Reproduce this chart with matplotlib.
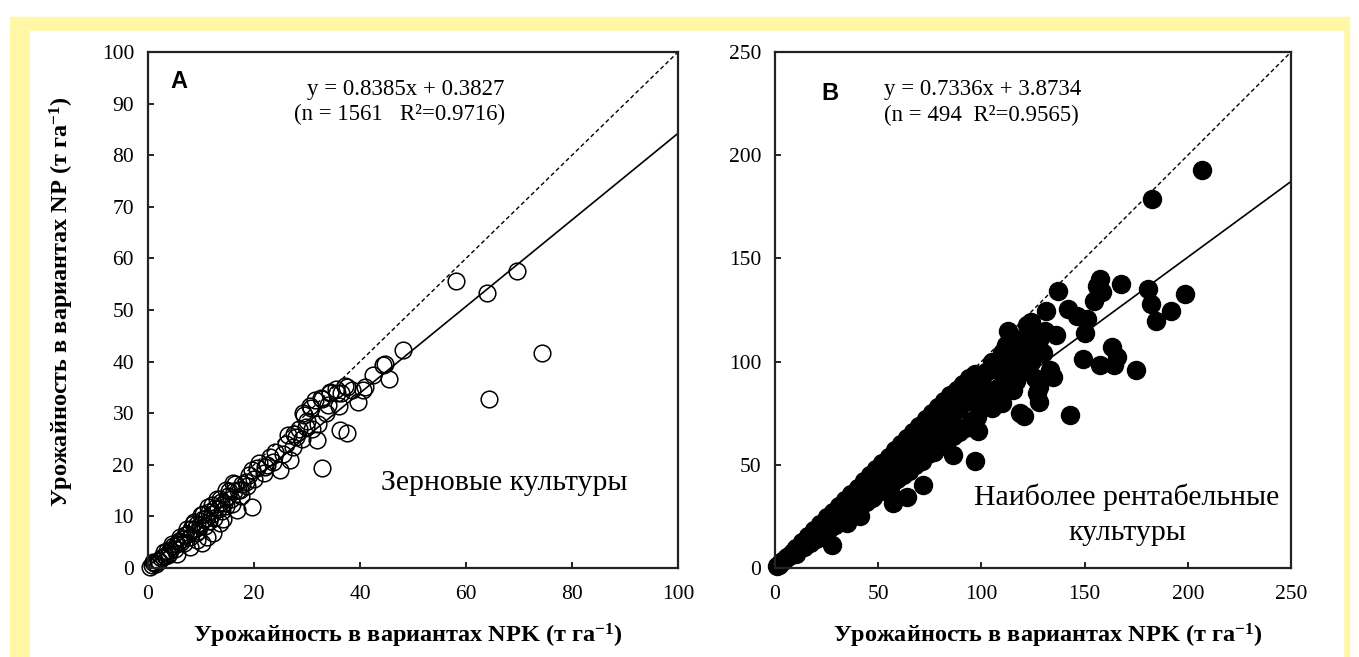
import numpy as np
import matplotlib
matplotlib.use('Agg')
import matplotlib.pyplot as plt
from matplotlib.patches import Rectangle

plt.rcParams['font.family'] = ['Liberation Serif', 'DejaVu Serif']
plt.rcParams['mathtext.fontset'] = 'custom'
plt.rcParams['mathtext.rm'] = 'Liberation Serif'
plt.rcParams['mathtext.bf'] = 'Liberation Serif:bold'
plt.rcParams['mathtext.default'] = 'regular'

# Panel A: grain crops (NPK yield vs NP yield)
a_x = [0.3, 0.8, 1.2, 1.8, 2.5, 2.9, 3.5, 4.2, 4.8, 5.4, 5.9, 6.5, 7.0, 7.6, 8.2, 8.8,
       9.3, 9.8, 10.4, 11.0, 11.6, 12.1, 12.7, 13.2, 13.8, 14.4, 15.0, 15.6, 16.3, 17.0,
       17.8, 18.5, 5.4, 7.9, 9.2, 10.1, 11.1, 12.3, 13.6, 14.2, 16.7, 19.6, 18.6, 17.4,
       8.5, 10.3, 12.0, 13.5, 15.2, 16.5, 19.6, 20.5, 22.5, 24.0, 26.5, 27.5, 29.5, 30.8,
       32.8, 34.3, 35.5, 37.2, 21.8, 23.0, 24.9, 26.8, 27.4, 28.0, 29.9, 31.8, 32.1, 32.8,
       36.2, 37.5, 29.3, 30.6, 32.7, 36.1, 34.3, 35.6, 37.5, 40.6, 39.7, 42.5, 44.4, 45.5,
       48.2, 44.7, 58.1, 63.9, 69.7, 74.3, 64.3, 4.0, 6.2, 9.0, 11.5, 14.8, 3.2, 1.5,
       1.0, 2.0, 3.0, 3.8, 4.5, 5.0, 6.0, 6.8, 7.3, 8.0, 8.7, 9.5, 10.0, 10.8, 11.4, 12.5,
       13.0, 14.0, 14.8, 15.8, 16.0, 17.5, 19.0, 20.0, 21.0, 22.0, 23.5, 25.5, 26.0, 28.5,
       29.0, 30.0, 31.0, 33.5, 34.0, 31.5, 36.5, 38.5, 41.0]
a_y = [0.2, 0.5, 0.9, 1.3, 2.0, 2.2, 3.2, 3.5, 4.3, 4.6, 5.3, 5.7, 6.4, 6.6, 7.5, 7.6,
       8.6, 8.3, 9.5, 9.6, 10.8, 10.4, 11.7, 11.5, 12.8, 12.6, 13.9, 13.4, 14.9, 15.2,
       16.3, 16.6, 2.8, 4.1, 5.4, 4.8, 6.0, 6.7, 8.7, 9.5, 11.2, 11.9, 15.8, 15.1,
       8.6, 10.4, 12.2, 13.3, 15.0, 16.2, 18.9, 19.3, 20.0, 22.5, 25.8, 26.0, 29.6, 31.0,
       32.7, 34.0, 34.6, 35.3, 18.4, 21.6, 19.0, 20.9, 23.5, 25.4, 27.4, 24.8, 28.0, 19.3,
       26.7, 26.1, 30.0, 31.3, 32.9, 31.3, 34.2, 33.9, 35.1, 34.5, 32.2, 37.4, 39.3, 36.6,
       42.2, 39.5, 55.6, 53.2, 57.6, 41.6, 32.7, 2.9, 5.0, 6.8, 9.2, 12.0, 2.4, 0.7,
       1.1, 1.4, 3.1, 2.6, 4.6, 3.6, 6.1, 4.9, 7.5, 6.0, 9.0, 7.2, 10.3, 8.2, 11.8, 9.6,
       13.4, 11.0, 15.2, 12.5, 16.5, 14.0, 18.0, 17.3, 20.3, 19.5, 20.5, 22.0, 24.0, 27.0,
       25.0, 28.5, 27.0, 30.0, 31.5, 32.5, 34.0, 34.5, 35.0]
a_slope, a_icpt = 0.8385, 0.3827

# Panel B: most profitable crops
b_x = [1, 2, 3, 4, 5, 6, 7, 8, 9, 10, 12, 13, 15, 16, 18, 19, 21, 22, 24, 25, 27, 28,
       30, 31, 33, 34, 36, 37, 39, 40, 42, 43, 45, 46, 48, 49, 51, 52, 54, 55, 57, 58,
       60, 61, 63, 64, 66, 67, 69, 70, 72, 73, 75, 76, 78, 79, 81, 82, 84, 85, 87, 88,
       90, 91, 93, 94, 96, 97, 99, 100,
       27.5, 20, 35, 41, 36, 47.6, 55.7, 57.3, 63.8, 65.6, 69, 71.9, 75.5, 77.1, 80.4,
       86.4, 88.7, 96.9, 96.1, 98.5, 93.6, 90.3, 96.9, 100.1, 105.1, 108.3, 113.3, 116.6,
       118.7, 120.7, 115.5, 126.8, 128.1, 128.1, 133, 134.6, 133.2, 119.9, 123.2, 128.1,
       122.3, 131.3, 136.3, 137.1, 142, 146.1, 150.2, 151.1, 154.4, 156, 157.6, 158.4,
       167.5, 163.4, 165.9, 149.4, 157.6, 164.2, 174.9, 142.9, 180.6, 182.3, 184.7, 192.1,
       198.6, 182.7, 206.9, 105, 110, 112, 115, 108, 102, 118, 100, 104, 110, 112, 124,
       10, 14, 17, 20, 23, 26, 29, 32, 35, 38, 41, 44, 47, 50, 53, 56, 59, 62, 65, 68,
       71, 74, 77, 80, 83, 86, 89, 92, 95, 98,
       103, 107, 111, 114, 117, 121, 124, 126, 130, 108, 113, 125, 131]
b_y = [1, 1.5, 3, 3.2, 4.5, 5.5, 6, 7.5, 8, 9.5, 10.5, 12.5, 13, 15.5, 16, 18.5, 19, 21.5,
       22, 24.5, 24, 27, 27.5, 30, 29, 33, 32, 36, 35, 39, 37, 42, 40, 45, 42, 48, 45, 51,
       47, 54, 50, 57, 52, 60, 55, 63, 58, 66, 61, 69, 63, 72, 66, 75, 68, 78, 71, 81, 74,
       84, 76, 86, 79, 89, 82, 92, 84, 93, 87, 90,
       11, 14, 22, 25, 28, 34.5, 36.2, 31.3, 34.5, 59.6, 62.9, 40.2, 71.1, 64.6, 66.2,
       54.7, 67.8, 52, 68.5, 66.2, 81, 87.6, 94.1, 89.2, 77.7, 87.6, 97.4, 90.8,
       75, 73.6, 86.2, 84.6, 80.2, 87.6, 95.8, 92.5, 94.3, 102.3, 107.3, 110.6,
       117.9, 124.5, 113, 134.3, 125.3, 122, 113.8, 120.4, 129.5, 136.8, 140.1, 133.5,
       137.6, 107.3, 102.3, 101.5, 98.2, 98.2, 96.1, 74.1, 135.2, 127.8, 119.6, 124.5,
       132.8, 178.7, 192.7, 100, 104, 108, 112, 96, 95, 110, 80, 84, 80, 92, 119,
       7, 10, 12, 15, 16.5, 19, 21, 24, 25.5, 28, 29.5, 32, 34, 37, 38, 40, 43, 45, 47, 50,
       52, 55, 56, 59, 61, 64, 66, 68, 71, 73,
       82, 86, 95, 88, 105, 96, 100, 92, 104, 100, 115, 113, 115]
b_slope, b_icpt = 0.7336, 3.8734

W, H = 1359, 657
fig = plt.figure(figsize=(W / 100, H / 100), dpi=100)
fig.patch.set_facecolor('white')
# yellow frame
fig.patches.append(Rectangle((10 / W, 0), (1349 - 10) / W, 1 - 17 / H,
                             transform=fig.transFigure, color='#FFF7A6', zorder=-2))
fig.patches.append(Rectangle((30 / W, 0), (1343 - 30) / W, 1 - 31 / H,
                             transform=fig.transFigure, color='white', zorder=-1))


def px(x, y):
    return x / W, 1 - y / H


def style_axes(ax):
    for s in ax.spines.values():
        s.set_linewidth(1.6)
        s.set_color('#222222')
    ax.tick_params(direction='in', length=4, width=1.2, labelsize=15.5,
                   top=False, right=False)
    ax.tick_params(axis='x', pad=12)
    ax.tick_params(axis='y', pad=10)
    ax.set_facecolor('none')


axA = fig.add_axes([148 / W, 1 - 568 / H, 530 / W, 516 / H])
axA.plot(a_x, a_y, 'o', ms=12, mfc='none', mec='black', mew=1.1, clip_on=False)
xx = np.array([0, 100])
axA.plot(xx, xx, color='black', lw=1, dashes=(3, 2))
axA.plot(xx, a_slope * xx + a_icpt, color='black', lw=1.2)
axA.set_xlim(0, 100)
axA.set_ylim(0, 100)
axA.set_xticks(range(0, 101, 20))
axA.set_yticks(range(0, 101, 10))
style_axes(axA)

axB = fig.add_axes([775 / W, 1 - 568 / H, 516 / W, 516 / H])
axB.plot(b_x, b_y, 'o', ms=13, color='black', clip_on=False)
xx = np.array([0, 250])
axB.plot(xx, xx, color='black', lw=1, dashes=(3, 2))
axB.plot(xx, b_slope * xx + b_icpt, color='black', lw=1.2)
axB.set_xlim(0, 250)
axB.set_ylim(0, 250)
axB.set_xticks(range(0, 251, 50))
axB.set_yticks(range(0, 251, 50))
style_axes(axB)

lab = 'Урожайность в вариантах NPK (т га$^{-1}$)'
fig.text(*px(408, 636), lab, ha='center', va='center', fontsize=17.5, fontweight='bold')
fig.text(*px(1048, 636), lab, ha='center', va='center', fontsize=17.5, fontweight='bold')
fig.text(*px(62, 302), 'Урожайность в вариантах NP (т га$^{-1}$)', ha='center',
         va='center', rotation=90, fontsize=17.5, fontweight='bold')

fig.text(*px(170, 82), 'A', family='Liberation Sans', fontweight='bold', fontsize=17,
         va='center')
fig.text(*px(821, 93), 'B', family='Liberation Sans', fontweight='bold', fontsize=17,
         va='center')

fig.text(*px(406, 90), 'y = 0.8385x + 0.3827', ha='center', va='center', fontsize=16.5)
fig.text(*px(400, 114), '(n = 1561   R²=0.9716)', ha='center', va='center', fontsize=16.5)
fig.text(*px(884, 90), 'y = 0.7336x + 3.8734', ha='left', va='center', fontsize=16.5)
fig.text(*px(884, 115), '(n = 494  R²=0.9565)', ha='left', va='center', fontsize=16.5)

fig.text(*px(504, 483), 'Зерновые культуры', ha='center', va='center', fontsize=21.5)
fig.text(*px(1127, 497), 'Наиболее рентабельные', ha='center', va='center', fontsize=21.5)
fig.text(*px(1127, 533), 'культуры', ha='center', va='center', fontsize=21.5)

fig.savefig('out.png', dpi=100)
